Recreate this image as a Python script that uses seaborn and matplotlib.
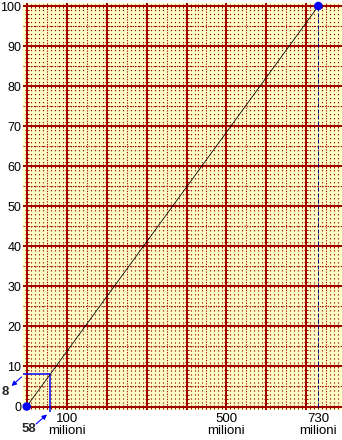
import numpy as np
import pandas as pd
import matplotlib
matplotlib.use("Agg")
import matplotlib.pyplot as plt
import seaborn as sns

# ---- data ----
line_x = [0, 730]          # milioni
line_y = [0, 100]
mark_x = 58                # read-off point
mark_y = 8
xtick_vals = [100, 500, 730]
xtick_labels = ["100\nmilioni", "500\nmilioni", "730\nmilioni"]
ytick_vals = list(range(0, 101, 10))

sns.set_theme(style="white")
plt.rcParams["font.family"] = ["Liberation Sans", "DejaVu Sans"]
plt.rcParams["lines.scale_dashes"] = False

DPI = 100
W, H = 342, 440
fig = plt.figure(figsize=(W / DPI, H / DPI), dpi=DPI)
# axes in pixel coordinates
L, R, T, B = 23, 342, 3, 410
ax = fig.add_axes([L / W, (H - B) / H, (R - L) / W, (B - T) / H])

XMIN, XMAX = -9.3, 789.2
YMIN, YMAX = -0.87, 100.75
ax.set_xlim(XMIN, XMAX)
ax.set_ylim(YMIN, YMAX)

BG = "#FFFFC8"
RED = "#A00000"
ax.set_facecolor(BG)
for s in ax.spines.values():
    s.set_visible(False)

px2pt = 72 / DPI
ppu_y = (B - T) / (YMAX - YMIN)          # px per y unit
ppu_x = (R - L) / (XMAX - XMIN)          # px per million

# ---- dot grid (every 10 milioni x every 1 unit) ----
dot = 1.2
period = ppu_y * 1.0
start = (0 - YMIN) * ppu_y - dot / 2
off = (period - start % period) % period
for xv in np.arange(0, 790, 10):
    if xv % 50 == 0:
        continue
    ax.axvline(xv, color=RED, lw=dot * px2pt,
               linestyle=(off * px2pt, (dot * px2pt, (period - dot) * px2pt)),
               zorder=1)

# ---- dotted lines at 50 milioni / 5 units ----
dd = (0, (1.2 * px2pt, 1.4 * px2pt))
for xv in np.arange(50, 790, 100):
    ax.axvline(xv, color=RED, lw=1.1 * px2pt, linestyle=dd, zorder=2)
for yv in np.arange(5, 100, 10):
    ax.axhline(yv, color=RED, lw=1.1 * px2pt, linestyle=dd, zorder=2)

# ---- major lines with small cross ticks ----
tick_x = np.arange(0, 790, 10)
tick_y = np.arange(0, 101, 1)
for yv in ytick_vals:
    ax.axhline(yv, color=RED, lw=2 * px2pt, zorder=3)
    ax.plot(tick_x, np.full_like(tick_x, yv, dtype=float), linestyle="none",
            marker="|", ms=4.5 * px2pt, mew=1 * px2pt, color=RED, zorder=3)
for xv in np.arange(0, 790, 100):
    ax.axvline(xv, color=RED, lw=2 * px2pt, zorder=3)
    ax.plot(np.full_like(tick_y, xv, dtype=float), tick_y, linestyle="none",
            marker="_", ms=4.5 * px2pt, mew=1 * px2pt, color=RED, zorder=3)

# ---- dashed vertical at the end point ----
ax.plot([line_x[1], line_x[1]], [0, line_y[1]], color="#000080",
        lw=1 * px2pt, linestyle=(0, (4 * px2pt, 2 * px2pt)), zorder=4)

# ---- read-off lines for the mark ----
ax.plot([XMIN, mark_x], [mark_y, mark_y], color="#0000FF", lw=1.5 * px2pt,
        zorder=5, solid_capstyle="butt")
ax.plot([mark_x, mark_x], [mark_y, YMIN - 2 / ppu_y], color="#0000FF",
        lw=1.5 * px2pt, zorder=5, clip_on=False, solid_capstyle="butt")

# ---- main line + end points ----
df = pd.DataFrame({"x": line_x, "y": line_y})
sns.lineplot(data=df, x="x", y="y", color="black", lw=0.8 * px2pt, ax=ax,
             zorder=6)
sns.scatterplot(data=df, x="x", y="y", color="#0000FF", s=(8.5 * px2pt) ** 2,
                edgecolor="none", ax=ax, zorder=7, clip_on=False)

# ---- annotations ----
def px_to_data(px, py):
    return XMIN + (px - L) / ppu_x, YMIN + (B - py) / ppu_y

tx, ty = px_to_data(5.5, 392)
hx, hy = px_to_data(11.5, 386)
sx, sy = px_to_data(21.5, 377)
ax.text(tx, ty, str(mark_y), fontsize=9.5, fontweight="bold", ha="center",
        va="center", clip_on=False)
ax.annotate("", xy=(hx, hy), xytext=(sx, sy),
            arrowprops=dict(arrowstyle="-|>", color="#0000FF", lw=0.8,
                            mutation_scale=7, shrinkA=0, shrinkB=0),
            annotation_clip=False)

tx, ty = px_to_data(28.5, 429)
hx, hy = px_to_data(47, 414.5)
sx, sy = px_to_data(36, 424)
ax.text(tx, ty, str(mark_x), fontsize=9.5, fontweight="bold", ha="center",
        va="center", clip_on=False)
ax.annotate("", xy=(hx, hy), xytext=(sx, sy),
            arrowprops=dict(arrowstyle="-|>", color="#0000FF", lw=0.8,
                            mutation_scale=7, shrinkA=0, shrinkB=0),
            annotation_clip=False)

# ---- ticks ----
ax.set_xticks(xtick_vals)
ax.set_xticklabels(xtick_labels, fontsize=9.5, linespacing=1.02)
ax.set_yticks(ytick_vals)
ax.set_yticklabels([str(v) for v in ytick_vals], fontsize=9)
ax.tick_params(axis="x", length=0, pad=2, colors="black")
ax.tick_params(axis="y", length=0, pad=1.2, colors="black")
ax.set_xlabel("")
ax.set_ylabel("")
ax.grid(False)

fig.savefig("out.png", dpi=DPI, facecolor="white")
